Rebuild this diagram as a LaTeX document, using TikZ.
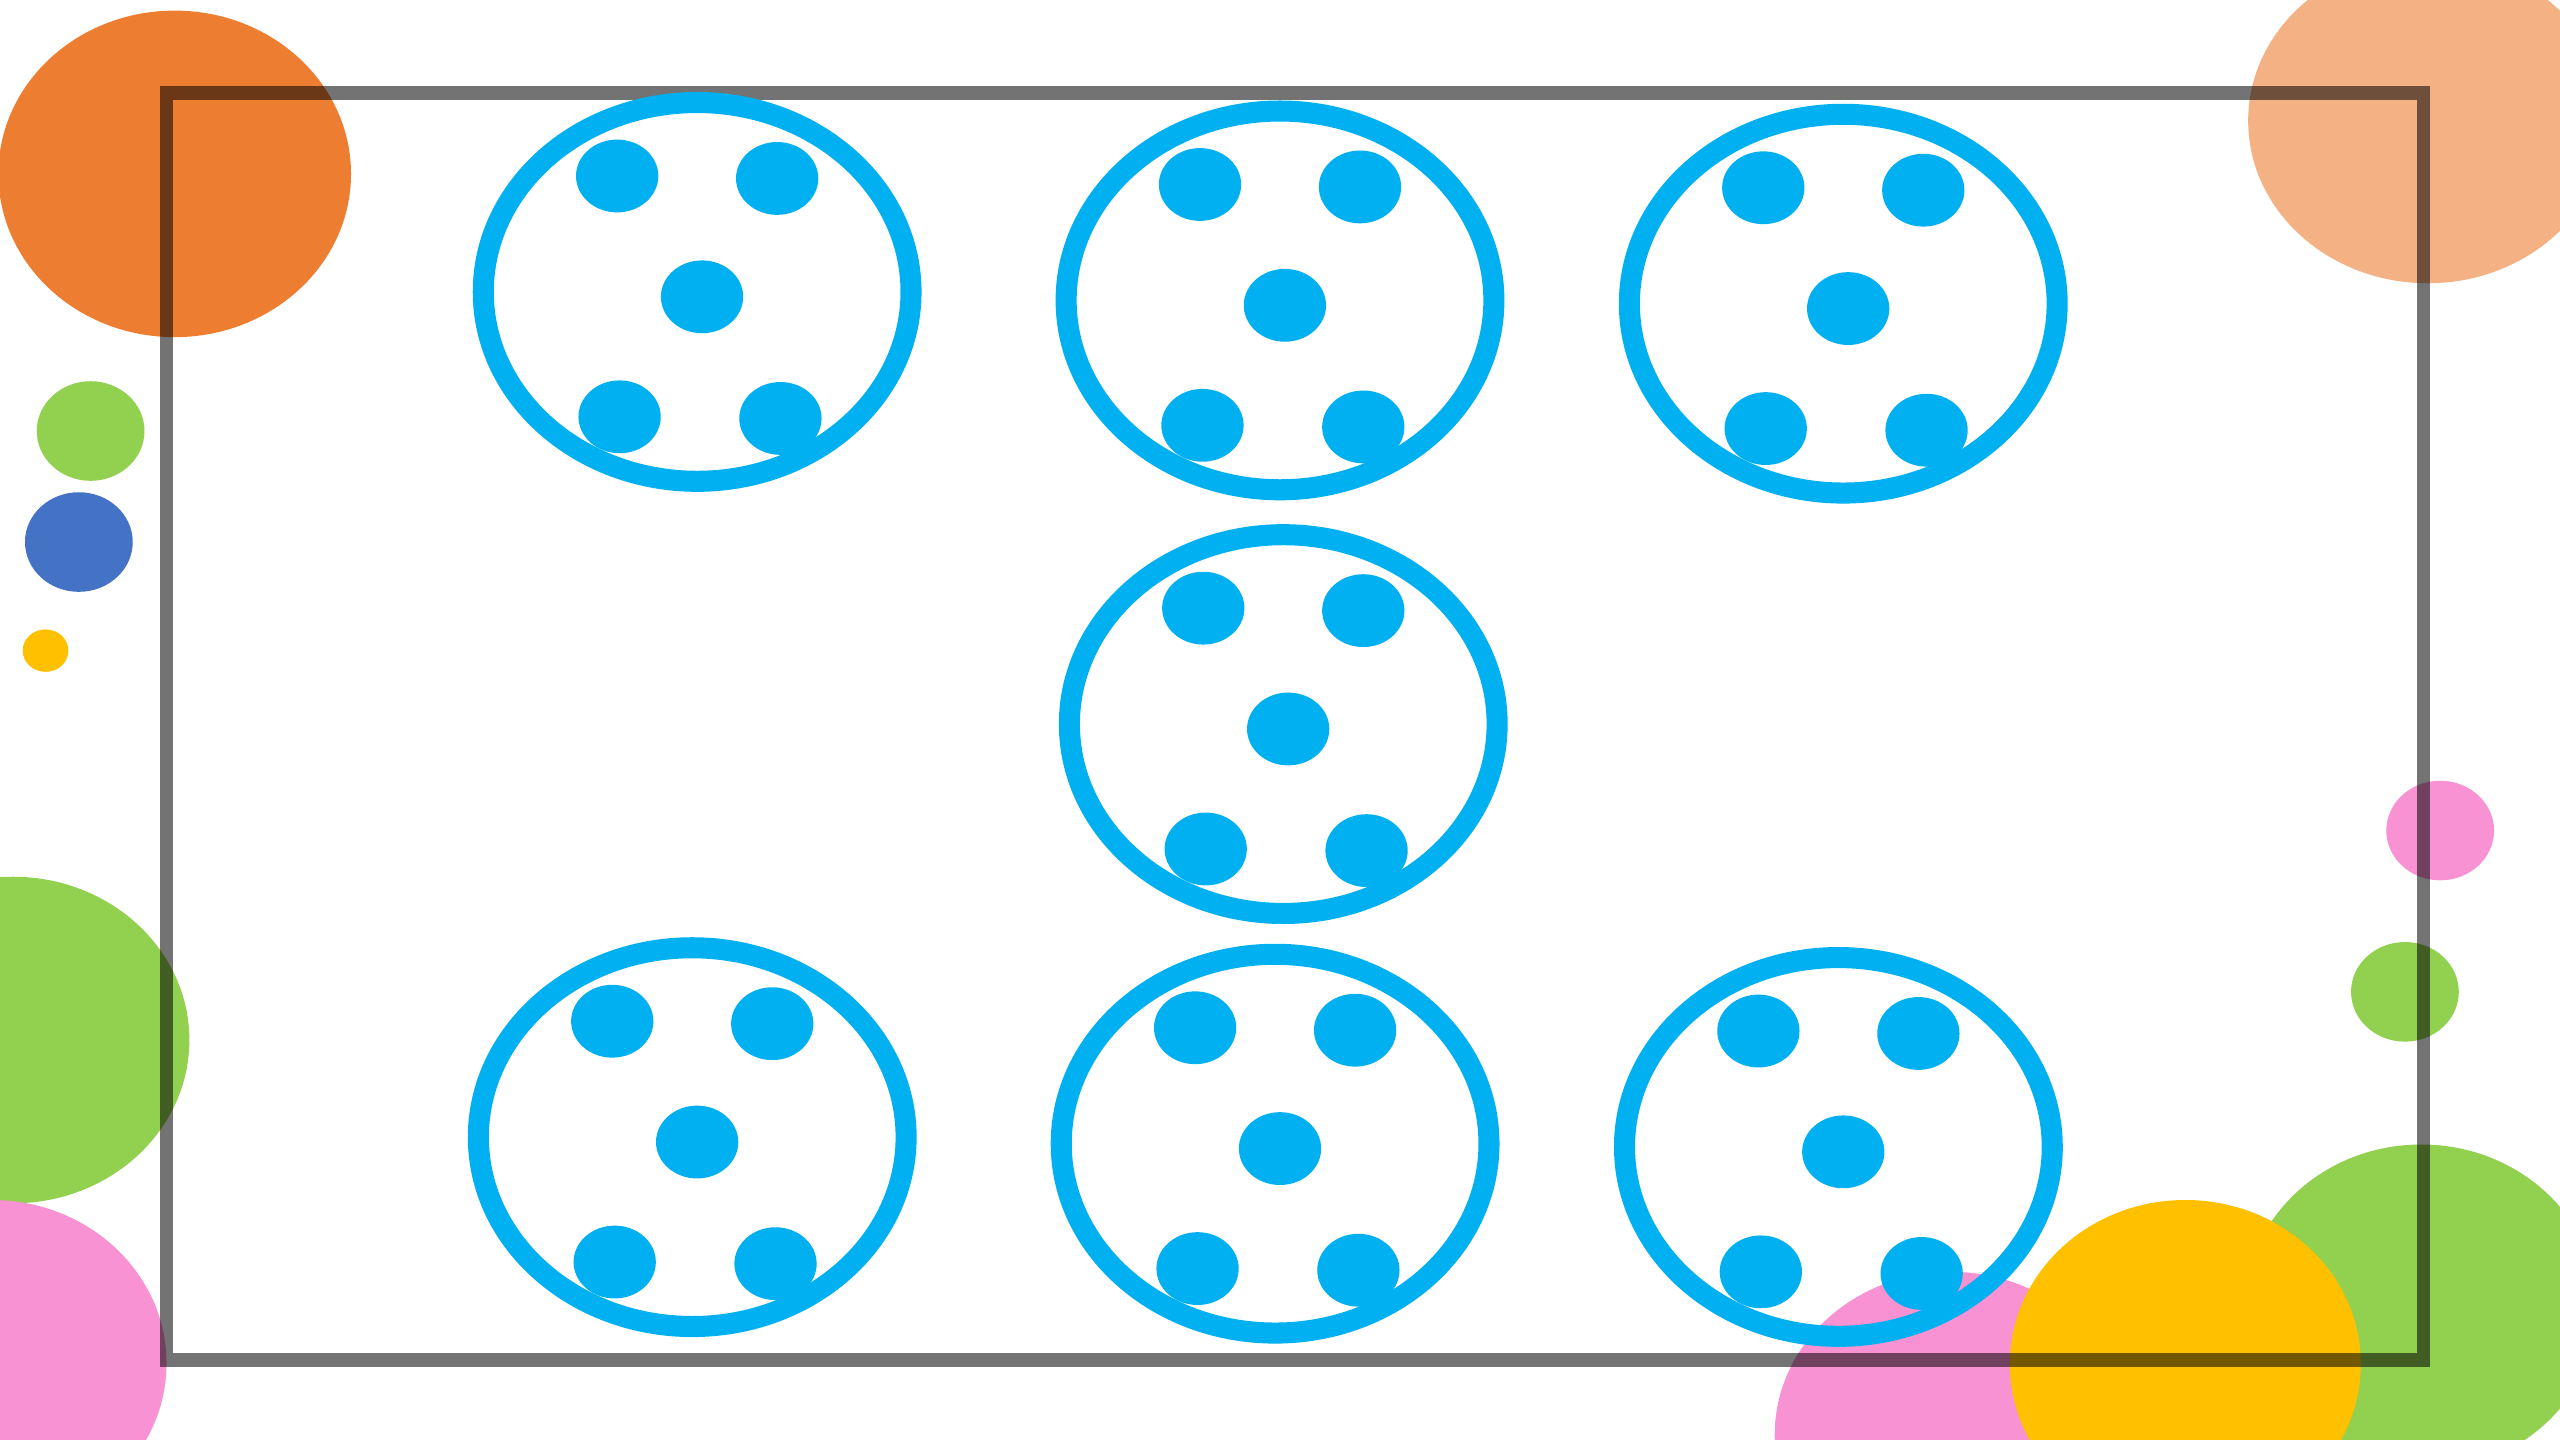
\documentclass[tikz,border=0pt]{standalone}
\definecolor{cblue}{HTML}{00B0F0}
\definecolor{corange}{HTML}{ED7D31}
\definecolor{cpeach}{HTML}{F4B183}
\definecolor{cgreen}{HTML}{92D050}
\definecolor{cdblue}{HTML}{4472C4}
\definecolor{cyellow}{HTML}{FFC000}
\definecolor{cpink}{HTML}{F892D2}
\tikzset{
  bigdeco/.style={x radius=108,y radius=100},
  smalldeco/.style={x radius=33,y radius=30.5},
  framebox/.style={draw=black,draw opacity=0.55,line width=8.4pt},
  ringshape/.style={draw=cblue,line width=12.9pt},
  dotshape/.style={fill=cblue},
}
\newcommand\dicepic[2]{%
  \begin{scope}[shift={(#1,#2)}]
    \draw[ringshape] (0,0) ellipse [x radius=131,y radius=116];
    \fill[dotshape] (-49,-71) ellipse [x radius=25.2,y radius=22.3];
    \fill[dotshape] (49,-69.5) ellipse [x radius=25.2,y radius=22.3];
    \fill[dotshape] (3,3) ellipse [x radius=25.2,y radius=22.3];
    \fill[dotshape] (-47.5,76.5) ellipse [x radius=25.2,y radius=22.3];
    \fill[dotshape] (51,77.5) ellipse [x radius=25.2,y radius=22.3];
  \end{scope}}
\begin{document}
\begin{tikzpicture}[x=1pt,y=-1pt]
  \useasboundingbox (0,0) rectangle (1568,882);
  \clip (0,0) rectangle (1568,882);
  \fill[white] (0,0) rectangle (1568,882);
  % decorative ellipses
  \fill[corange] (107,106.5) ellipse [bigdeco];
  \fill[cpeach] (1487,74) ellipse [x radius=110,y radius=99.5];
  \fill[cgreen] (55.5,264) ellipse [smalldeco];
  \fill[cdblue] (48.3,332) ellipse [smalldeco];
  \fill[cyellow] (27.9,398.5) ellipse [x radius=14,y radius=13];
  \fill[cgreen] (8,637) ellipse [bigdeco];
  \fill[cpink] (-5,835) ellipse [x radius=107,y radius=100];
  \fill[cpink] (1494.6,508.7) ellipse [smalldeco];
  \fill[cgreen] (1473,607.5) ellipse [smalldeco];
  \fill[cgreen] (1483,801) ellipse [bigdeco];
  \fill[cpink] (1195,879) ellipse [bigdeco];
  \fill[cyellow] (1338.5,835.5) ellipse [x radius=107.5,y radius=100.5];
  % frame
  \draw[framebox] (101.9,56.8) rectangle (1484.3,833);
  % dice
  \dicepic{427}{178.8}
  \dicepic{784}{184}
  \dicepic{1129}{186}
  \dicepic{786}{443.5}
  \dicepic{424}{696.5}
  \dicepic{781}{700.5}
  \dicepic{1126}{702.5}
\end{tikzpicture}
\end{document}
